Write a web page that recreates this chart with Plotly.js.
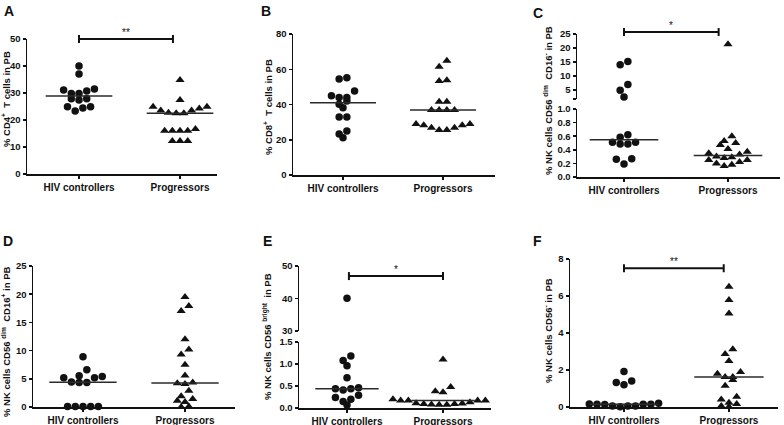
<!DOCTYPE html>
<html>
<head>
<meta charset="utf-8">
<script src="https://cdn.plot.ly/plotly-3.0.1.min.js"></script>
<style>
  html, body { margin: 0; padding: 0; background: #fff; }
  #chart { width: 784px; height: 425px; }
</style>
</head>
<body>
<div id="chart"></div>
<script>
const groups = ['HIV controllers', 'Progressors'];

// A: % CD4+ T cells
const cd4Ctrl = [40.0, 37.0, 31.5, 31.1, 30.7, 29.8, 29.8, 27.9, 27.4, 27.9, 24.9, 24.9, 24.4, 23.3];
const cd4Prog = [34.8, 27.4, 24.9, 23.5, 22.7, 22.5, 22.5, 23.5, 24.3, 24.9, 16.0, 16.0, 16.0, 16.0, 16.7, 12.2, 12.2, 12.2];

// B: % CD8+ T cells
const cd8Ctrl = [54.4, 55.2, 47.6, 44.0, 44.0, 45.0, 42.0, 40.1, 38.2, 32.9, 32.9, 25.0, 23.3, 21.2];
const cd8Prog = [64.8, 61.4, 53.3, 53.7, 41.6, 41.6, 36.9, 36.9, 36.9, 36.9, 28.9, 28.2, 26.8, 25.5, 25.5, 26.8, 28.2, 28.9];

// C: % NK CD56dim CD16-
const dimNegCtrl = [15.2, 14.0, 7.0, 4.9, 2.5, 0.62, 0.51, 0.485, 0.485, 0.51, 0.585, 0.27, 0.19, 0.26];
const dimNegProg = [21.3, 0.60, 0.53, 0.50, 0.47, 0.41, 0.37, 0.35, 0.33, 0.30, 0.28, 0.29, 0.25, 0.22, 0.20, 0.18, 0.16, 0.25];

// D: % NK CD56dim CD16+
const dimPosCtrl = [8.9, 6.6, 5.4, 5.2, 4.35, 4.35, 4.45, 5.2, 5.55, 0.1, 0.1, 0.1, 0.1, 0.1];
const dimPosProg = [19.5, 17.9, 17.0, 12.0, 10.2, 9.3, 7.5, 5.6, 4.35, 4.1, 4.2, 2.9, 1.9, 1.4, 0.9, 1.1, 0.0, 0.1];

// E: % NK CD56bright
const brightCtrl = [40.1, 1.18, 1.08, 0.96, 0.69, 0.44, 0.41, 0.44, 0.46, 0.29, 0.20, 0.24, 0.15, 0.07];
const brightProg = [1.10, 0.48, 0.38, 0.36, 0.20, 0.17, 0.17, 0.17, 0.17, 0.21, 0.11, 0.09, 0.08, 0.075, 0.075, 0.09, 0.10, 0.13];

// F: % NK CD56-
const negCtrl = [1.92, 1.32, 1.41, 1.2, 0.16, 0.15, 0.05, 0.14, 0.02, 0.2, 0.05, 0.05, 0.15, 0.15];
const negProg = [6.5, 5.78, 5.06, 3.12, 2.86, 2.49, 1.89, 1.80, 1.62, 1.62, 1.46, 1.15, 0.56, 0.41, 0.16, 0.23, 0.02, 0.05];

const W = 784, H = 425;
const ARIAL = '"Liberation Sans", Arial, sans-serif';
const INK = '#111';
const DOT = 7.7;   // px between neighbours in a row
const ROW = 6.5;   // px of value span sharing one row

// panel geometry (page px): x = [axis left, axis right], segs = y axis pieces from bottom up
const panels = [
  { letter: 'A', ctrl: cd4Ctrl, prog: cd4Prog, title: '% CD4<sup>+</sup>  T cells in PB',
    x: [27, 217], xr: [0.485, 2.366],
    segs: [{ y: [174, 39], r: [0, 50], ticks: [0, 10, 20, 30, 40, 50], dec: 0 }],
    titlePos: [6, 99], letterPos: [2, 1], sig: '**', bracket: [1, 1.93, 50] },
  { letter: 'B', ctrl: cd8Ctrl, prog: cd8Prog, title: '% CD8<sup>+</sup>  T cells in PB',
    x: [293, 495], xr: [0.5, 2.52],
    segs: [{ y: [175, 34], r: [0, 80], ticks: [0, 20, 40, 60, 80], dec: 0 }],
    titlePos: [268, 107], letterPos: [259, 1] },
  { letter: 'C', ctrl: dimNegCtrl, prog: dimNegProg, title: '% NK cells CD56 <sup>dim</sup>  CD16<sup>-</sup> in PB',
    x: [577, 780], xr: [0.548, 2.5],
    segs: [{ y: [177, 109], r: [0, 1], ticks: [0, 0.2, 0.4, 0.6, 0.8, 1.0], dec: 1 },
           { y: [99, 34], r: [1.8, 25], ticks: [5, 10, 15, 20, 25], dec: 0, endTick: true }],
    titlePos: [548, 101], letterPos: [531, 3], sig: '*', bracket: [1, 1.91, 25.7] },
  { letter: 'D', ctrl: dimPosCtrl, prog: dimPosProg, title: '% NK cells CD56 <sup>dim</sup>  CD16<sup>+</sup> in PB',
    x: [33, 235], xr: [0.51, 2.49],
    segs: [{ y: [407, 266], r: [0, 25], ticks: [0, 5, 10, 15, 20, 25], dec: 0 }],
    titlePos: [6, 342], letterPos: [1, 231] },
  { letter: 'E', ctrl: brightCtrl, prog: brightProg, title: '% NK cells CD56 <sup>bright</sup>  in PB',
    x: [299, 491], xr: [0.5, 2.5],
    segs: [{ y: [408, 342], r: [0, 1.5], ticks: [0, 0.5, 1.0, 1.5], dec: 1 },
           { y: [331, 266], r: [30, 50], ticks: [30, 40, 50], dec: 0 }],
    titlePos: [267, 337], letterPos: [261, 231], sig: '*', bracket: [1.02, 2.0, 46.9] },
  { letter: 'F', ctrl: negCtrl, prog: negProg, title: '% NK cells CD56<sup>-</sup> in PB',
    x: [570, 778], xr: [0.486, 2.467],
    segs: [{ y: [407, 259], r: [0, 8], ticks: [0, 2, 4, 6, 8], dec: 0 }],
    titlePos: [548, 331], letterPos: [531, 231], sig: '**', bracket: [1, 1.95, 7.5] }
];

const lerp = (v, r, a, b) => a + (v - r[0]) / (r[1] - r[0]) * (b - a);

function median(vals) {
  const s = vals.slice().sort((a, b) => a - b);
  const m = Math.floor(s.length / 2);
  return s.length % 2 ? s[m] : (s[m - 1] + s[m]) / 2;
}

// column-scatter spread: values close together share a row, lowest in the middle
function spread(vals, pxY, pxX) {
  const order = vals.map((v, i) => i).sort((a, b) => vals[b] - vals[a]);
  const rows = [];
  let cur = null;
  order.forEach(i => {
    if (!cur || (vals[cur[0]] - vals[i]) * pxY > ROW) { cur = [i]; rows.push(cur); }
    else cur.push(i);
  });
  const off = new Array(vals.length).fill(0);
  rows.forEach(row => {
    const r = row.slice().sort((a, b) => vals[a] - vals[b]);
    const slots = r.map((_, k) => k - (r.length - 1) / 2)
      .sort((a, b) => Math.abs(a) - Math.abs(b) || a - b);
    r.forEach((i, k) => { off[i] = slots[k] * DOT / pxX; });
  });
  return off;
}

const axisBase = {
  showgrid: false, zeroline: false, showline: true, linecolor: INK, linewidth: 1.5,
  ticks: 'outside', tickcolor: INK, tickwidth: 1.5, fixedrange: true
};

const layout = {
  width: W, height: H, margin: { l: 0, r: 0, t: 0, b: 0 },
  paper_bgcolor: '#fff', plot_bgcolor: 'rgba(0,0,0,0)', showlegend: false,
  font: { family: ARIAL, color: INK },
  shapes: [], annotations: []
};
const traces = [];
let n = 0;

panels.forEach(p => {
  const xPx = (p.x[1] - p.x[0]) / (p.xr[1] - p.xr[0]);
  const axes = p.segs.map((s, k) => {
    n += 1;
    const xid = n === 1 ? 'x' : 'x' + n;
    const yid = n === 1 ? 'y' : 'y' + n;
    const xa = {
      ...axisBase, domain: [p.x[0] / W, p.x[1] / W], range: p.xr, anchor: yid,
      tickmode: 'array', tickvals: [1, 2], ticktext: groups, ticklen: 3,
      tickfont: { family: ARIAL, size: 10, weight: 'bold', color: INK }
    };
    if (k > 0) xa.visible = false;
    const tv = s.endTick ? [s.r[0]].concat(s.ticks) : s.ticks;
    const tt = tv.map(v => (s.endTick && v === s.r[0]) ? ' ' : v.toFixed(s.dec));
    const ya = {
      ...axisBase, domain: [1 - s.y[0] / H, 1 - s.y[1] / H], range: s.r, anchor: xid,
      tickmode: 'array', tickvals: tv, ticktext: tt, ticklen: 3,
      tickfont: { family: ARIAL, size: 9.5, weight: 'bold', color: INK }
    };
    layout['xaxis' + (n === 1 ? '' : n)] = xa;
    layout['yaxis' + (n === 1 ? '' : n)] = ya;
    return { xid, yid, s, pxY: (s.y[0] - s.y[1]) / (s.r[1] - s.r[0]) };
  });

  const inSeg = (v, k) => k === 0 ? v <= p.segs[0].r[1] : v > p.segs[k - 1].r[1];

  [p.ctrl, p.prog].forEach((vals, g) => {
    const c = g + 1;
    axes.forEach((ax, k) => {
      const sub = vals.filter(v => inSeg(v, k));
      if (!sub.length) return;
      const off = spread(sub, ax.pxY, xPx);
      traces.push({
        type: 'scatter', mode: 'markers', xaxis: ax.xid, yaxis: ax.yid,
        x: sub.map((v, i) => c + off[i]), y: sub, cliponaxis: false, hoverinfo: 'y',
        marker: g === 0
          ? { symbol: 'circle', size: 7.5, color: INK }
          : { symbol: 'triangle-up', size: 8, color: INK }
      });
    });
    const m = median(vals);
    const ax = axes[axes.findIndex((a, k) => inSeg(m, k))];
    traces.push({
      type: 'scatter', mode: 'lines', xaxis: ax.xid, yaxis: ax.yid, hoverinfo: 'skip',
      x: [c - 0.33, c + 0.33], y: [m, m], line: { color: '#2a2a2a', width: 1.5 }
    });
  });

  // significance bracket on the top segment
  if (p.sig) {
    const top = p.segs[p.segs.length - 1];
    const bx0 = lerp(p.bracket[0], p.xr, p.x[0], p.x[1]);
    const bx1 = lerp(p.bracket[1], p.xr, p.x[0], p.x[1]);
    const by = lerp(p.bracket[2], top.r, top.y[0], top.y[1]);
    const line = (x0, y0, x1, y1) => ({
      type: 'line', xref: 'paper', yref: 'paper', x0: x0 / W, x1: x1 / W,
      y0: 1 - y0 / H, y1: 1 - y1 / H, line: { color: INK, width: 2 }
    });
    layout.shapes.push(line(bx0, by, bx1, by), line(bx0, by - 4, bx0, by + 4), line(bx1, by - 4, bx1, by + 4));
    layout.annotations.push({
      xref: 'paper', yref: 'paper', x: (bx0 + bx1) / 2 / W, y: 1 - (by + 1) / H,
      xanchor: 'center', yanchor: 'bottom', showarrow: false, text: p.sig,
      font: { family: ARIAL, size: 10, color: INK }
    });
  }

  layout.annotations.push({
    xref: 'paper', yref: 'paper', x: p.titlePos[0] / W, y: 1 - p.titlePos[1] / H,
    xanchor: 'center', yanchor: 'middle', textangle: -90, showarrow: false, text: p.title,
    font: { family: ARIAL, size: 9.5, weight: 'bold', color: INK }
  });
  layout.annotations.push({
    xref: 'paper', yref: 'paper', x: p.letterPos[0] / W, y: 1 - p.letterPos[1] / H,
    xanchor: 'left', yanchor: 'top', showarrow: false, text: p.letter,
    font: { family: ARIAL, size: 14, weight: 'bold', color: INK }
  });
});

Plotly.newPlot('chart', traces, layout, { displayModeBar: false, staticPlot: true });
</script>
</body>
</html>
